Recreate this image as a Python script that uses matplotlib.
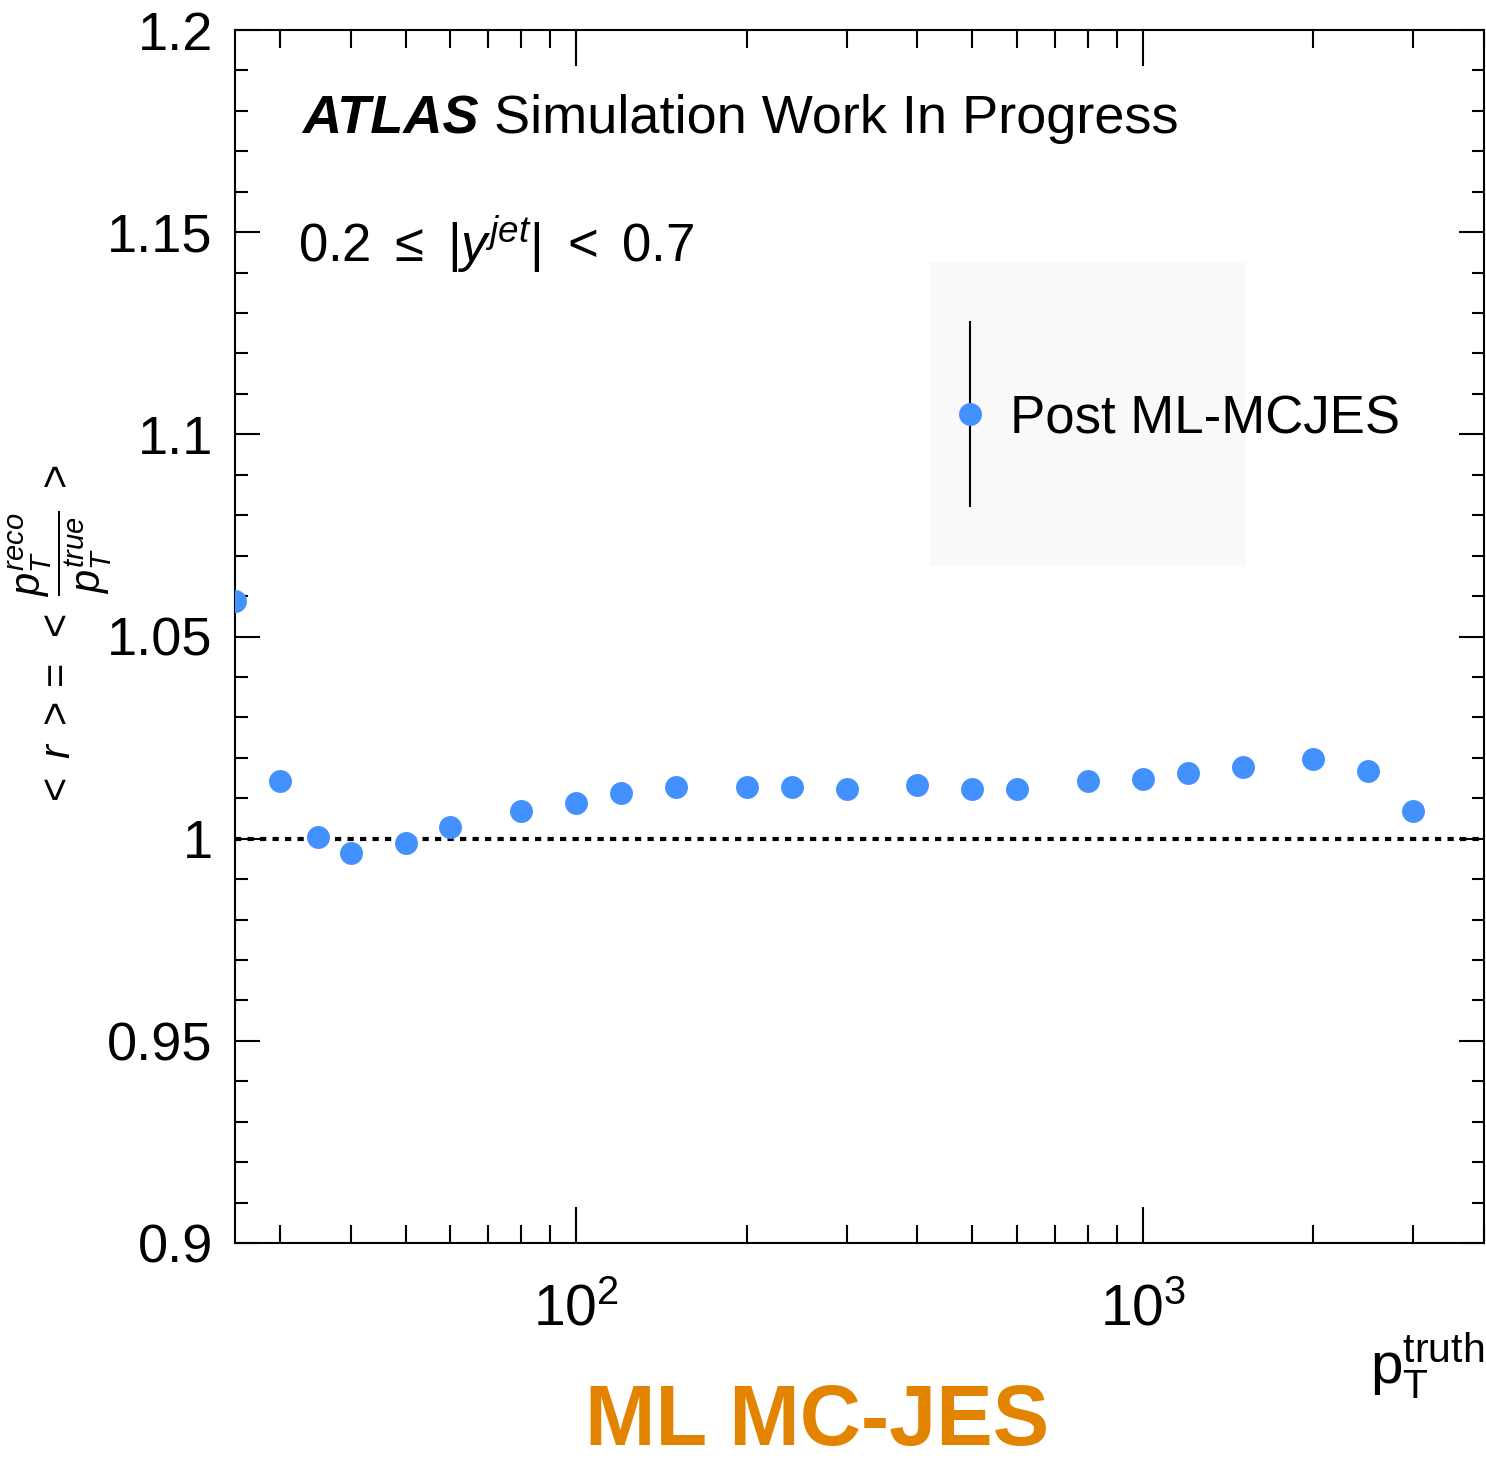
import matplotlib
matplotlib.use("Agg")
import matplotlib.pyplot as plt
from matplotlib.patches import Rectangle
from matplotlib.lines import Line2D
from matplotlib.ticker import FixedLocator, LogLocator, NullFormatter, MultipleLocator

# ---- data ----
pt_truth = [25, 30, 35, 40, 50, 60, 80, 100, 120, 150, 200, 240, 300, 400,
            500, 600, 800, 1000, 1200, 1500, 2000, 2500, 3000]
response = [1.0588, 1.0143, 1.0005, 0.9965, 0.9989, 1.0029, 1.0069, 1.0088,
            1.0113, 1.0128, 1.0128, 1.0128, 1.0123, 1.0133, 1.0123, 1.0123,
            1.0143, 1.0148, 1.0163, 1.0177, 1.0197, 1.0167, 1.0069]
series_label = "Post ML-MCJES"
xticks_major = [100, 1000]
xtick_labels = [r"$10^{2}$", r"$10^{3}$"]
yticks_major = [0.9, 0.95, 1.0, 1.05, 1.1, 1.15, 1.2]
ytick_labels = ["0.9", "0.95", "1", "1.05", "1.1", "1.15", "1.2"]

plt.rcParams['font.family'] = ['Liberation Sans', 'DejaVu Sans']
plt.rcParams['mathtext.fontset'] = 'custom'
plt.rcParams['mathtext.rm'] = 'Liberation Sans'
plt.rcParams['mathtext.it'] = 'Liberation Sans:italic'
plt.rcParams['mathtext.bf'] = 'Liberation Sans:bold'

blue = '#4391FF'

fig = plt.figure(figsize=(14.86, 14.61), dpi=100)
ax = fig.add_axes([235/1486, 1-1243/1461, (1484-235)/1486, (1243-30)/1461])

ax.set_xscale('log')
ax.set_xlim(25, 4000)
ax.set_ylim(0.9, 1.2)

ax.axhline(1.0, color='black', lw=3.0, linestyle=(0, (1.5, 1.5)), zorder=2)
ax.plot(pt_truth, response, 'o', color=blue, ms=16.5, mec='none', zorder=3, clip_on=True)

# ticks
ax.xaxis.set_major_locator(FixedLocator(xticks_major))
ax.set_xticklabels(xtick_labels)
ax.xaxis.set_minor_locator(LogLocator(base=10, subs=range(2, 10)))
ax.xaxis.set_minor_formatter(NullFormatter())
ax.set_yticks(yticks_major)
ax.set_yticklabels(ytick_labels)
ax.yaxis.set_minor_locator(MultipleLocator(0.01))

ax.tick_params(axis='both', which='both', direction='in', top=True, right=True, width=1.5, colors='black')
ax.tick_params(axis='x', which='major', length=26, pad=29, labelsize=41)
ax.tick_params(axis='x', which='minor', length=13)
ax.tick_params(axis='y', which='major', length=18, pad=16, labelsize=39)
ax.tick_params(axis='y', which='minor', length=9)
for s in ax.spines.values():
    s.set_linewidth(1.5)

# labels
ax.set_ylabel(r"$<\ r\ >=\ <\ \dfrac{p_{T}^{reco}}{p_{T}^{true}}\ >$", fontsize=30)
ax.yaxis.set_label_coords(-0.097, 0.5)
ax.set_xlabel(r"$\mathregular{p_{T}^{truth}}$", fontsize=42)
ax.xaxis.set_label_coords(1.0, -0.072)
ax.xaxis.label.set_ha('right')

# ATLAS text
t1 = ax.text(0.0536, 0.915, "ATLAS", transform=ax.transAxes, fontsize=39,
             fontweight='bold', fontstyle='italic', va='baseline', ha='left')
ax.annotate(" Simulation Work In Progress", xy=(1, 0), xycoords=t1,
            va='bottom', ha='left', fontsize=39)
ax.text(0.0504, 0.809, r"$0.2\ \leq\ |y^{jet}|\ <\ 0.7$", transform=ax.transAxes,
        fontsize=38, va='baseline', ha='left')

# legend (manual)
ax.add_patch(Rectangle((0.5565, 0.558), 0.2522, 0.2507, transform=ax.transAxes,
                       facecolor='#f9f9f9', edgecolor='none', zorder=1))
ax.add_line(Line2D([0.5885, 0.5885], [0.6076, 0.7593], transform=ax.transAxes,
                   color='black', lw=1.5, zorder=4))
ax.add_line(Line2D([0.5885], [0.6834], transform=ax.transAxes, marker='o',
                   color=blue, ms=16.5, mec='none', zorder=5))
ax.text(0.6205, 0.679, series_label, transform=ax.transAxes, fontsize=38,
        va='center', ha='left', zorder=5)

# bottom banner
fig.text(585/1486, 1-1445/1461, "ML MC-JES", color='#E38400', fontsize=61,
         fontweight='heavy', family=['Liberation Sans', 'DejaVu Sans'],
         ha='left', va='baseline')

fig.savefig("out.png", dpi=100)
